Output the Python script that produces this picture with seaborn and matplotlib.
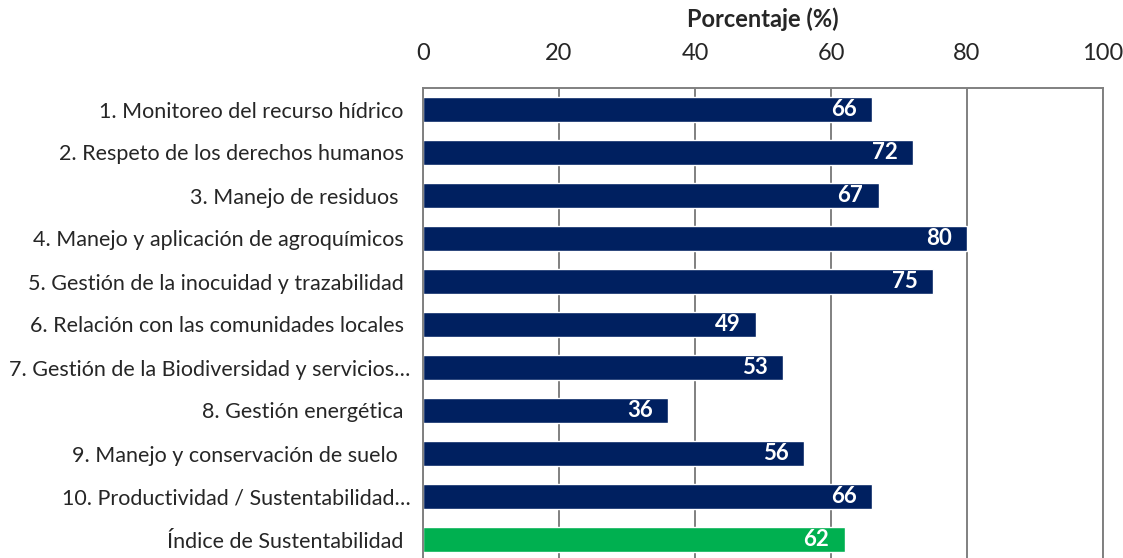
import matplotlib
matplotlib.use("Agg")
import matplotlib.pyplot as plt
import matplotlib.transforms as mtransforms
import numpy as np
import pandas as pd
import seaborn as sns

# Data
categories = [
    "1. Monitoreo del recurso hídrico",
    "2. Respeto de los derechos humanos",
    "3. Manejo de residuos ",
    "4. Manejo y aplicación de agroquímicos",
    "5. Gestión de la inocuidad y trazabilidad",
    "6. Relación con las comunidades locales",
    "7. Gestión de la Biodiversidad y servicios…",
    "8. Gestión energética",
    "9. Manejo y conservación de suelo ",
    "10. Productividad / Sustentabilidad…",
    "Índice de Sustentabilidad",
]
values = [66, 72, 67, 80, 75, 49, 53, 36, 56, 66, 62]
x_ticks = [0, 20, 40, 60, 80, 100]

navy = "#002060"
green = "#00B050"
colors = [navy] * 10 + [green]

df = pd.DataFrame({"categoria": categories, "valor": values})

sns.set_style("white")
plt.rcParams['font.family'] = ['Lato', 'DejaVu Sans']

fig = plt.figure(figsize=(11.23, 5.58), dpi=100)
ax = fig.add_axes([423 / 1123, -3 / 558, 680 / 1123, (558 - 88 + 3) / 558])
ax.set_axisbelow(True)

sns.barplot(
    data=df, x="valor", y="categoria", hue="categoria",
    palette=colors, legend=False, orient="h", width=0.58,
    saturation=1, ax=ax, zorder=2,
)

ax.set_xlim(0, 100)
ax.set_ylim(len(categories) - 0.5, -0.5)
ax.set_xticks(x_ticks)
ax.xaxis.tick_top()
ax.xaxis.set_label_position("top")
ax.set_xlabel("Porcentaje (%)", fontsize=17, fontweight="bold", labelpad=12)
ax.set_ylabel("")
ax.tick_params(axis="x", length=0, labelsize=17, pad=17)
ax.tick_params(axis="y", length=0, labelsize=15.5, pad=14)

# truncated (Excel-style) labels sit closer to the axis
for lbl in ax.get_yticklabels():
    if lbl.get_text().endswith("…"):
        lbl.set_transform(lbl.get_transform() +
                          mtransforms.ScaledTranslation(7 / 100, 0, fig.dpi_scale_trans))

ax.grid(axis="x", color="#808080", linewidth=1.4, zorder=0)
ax.grid(axis="y", visible=False)
for side in ["top", "left", "right"]:
    ax.spines[side].set_color("#808080")
    ax.spines[side].set_linewidth(1.4)
ax.spines["bottom"].set_visible(False)

for i, v in enumerate(values):
    ax.annotate(str(v), xy=(v, i), xytext=(-11, 0), textcoords="offset points",
                ha="right", va="center", color="white",
                fontsize=16, fontweight="bold", zorder=3)

fig.savefig("out.png", dpi=100)
